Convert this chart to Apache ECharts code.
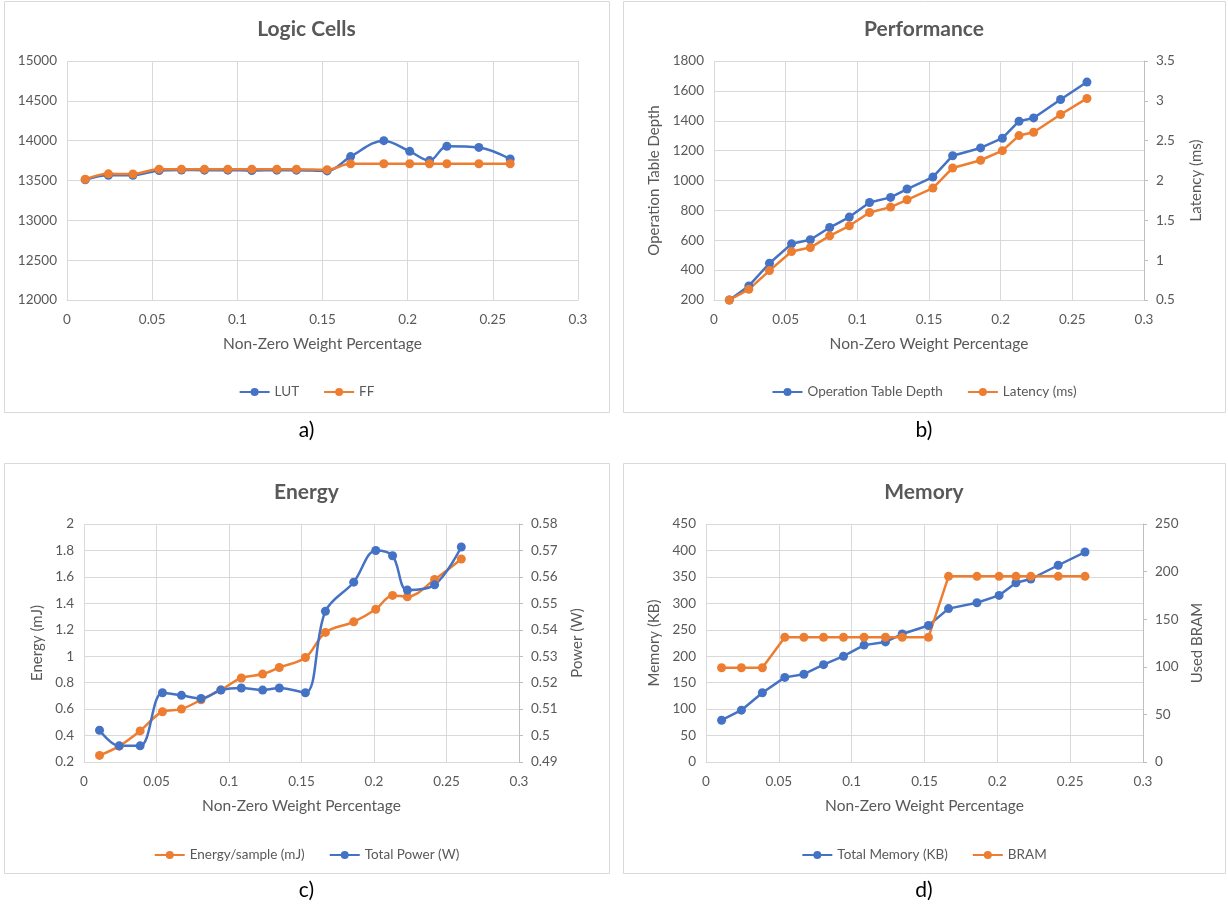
<!DOCTYPE html>
<html>
<head>
<meta charset="utf-8">
<script src="https://cdn.jsdelivr.net/npm/echarts@6/dist/echarts.min.js"></script>
<style>
html,body{margin:0;padding:0;background:#fff;}
#wrap{position:relative;width:1228px;height:907px;overflow:hidden;}
.p{position:absolute;}
</style>
</head>
<body>
<div id="wrap">
  <div class="p" id="pa" style="left:0;top:0;width:613px;height:455px"></div>
  <div class="p" id="pb" style="left:617px;top:0;width:614px;height:455px"></div>
  <div class="p" id="pc" style="left:0;top:455px;width:613px;height:452px"></div>
  <div class="p" id="pd" style="left:617px;top:455px;width:614px;height:452px"></div>
</div>
<script>
// ---- data ----
const nzw = [0.0107, 0.0243, 0.0387, 0.0541, 0.0672, 0.0807, 0.0944, 0.1085, 0.1232, 0.1347, 0.1527, 0.1665, 0.1860, 0.2012, 0.2128, 0.2230, 0.2418, 0.2602];
const lut = [13510, 13565, 13565, 13625, 13632, 13630, 13630, 13625, 13630, 13630, 13620, 13800, 14000, 13866, 13750, 13930, 13915, 13770];
const ff = [13515, 13584, 13582, 13642, 13642, 13642, 13642, 13642, 13642, 13642, 13636, 13710, 13710, 13710, 13710, 13710, 13710, 13710];
const depth = [200, 294, 446, 576, 603, 685, 755, 853, 887, 943, 1023, 1166, 1218, 1283, 1397, 1419, 1542, 1659];
const latency = [0.50, 0.634, 0.869, 1.108, 1.158, 1.305, 1.431, 1.599, 1.666, 1.758, 1.905, 2.157, 2.254, 2.375, 2.564, 2.606, 2.829, 3.03];
const energy = [0.25, 0.32, 0.435, 0.58, 0.60, 0.67, 0.745, 0.835, 0.865, 0.915, 0.99, 1.18, 1.26, 1.355, 1.46, 1.45, 1.58, 1.735];
const power = [0.502, 0.4961, 0.4961, 0.5162, 0.5152, 0.514, 0.5172, 0.518, 0.5172, 0.518, 0.5162, 0.547, 0.558, 0.570, 0.568, 0.555, 0.557, 0.5713];
const memory = [79, 98, 131, 160, 166, 184, 200, 221, 227, 242, 258, 290, 301, 315, 339, 346, 372, 397];
const bram = [99, 99, 99, 131, 131, 131, 131, 131, 131, 131, 131, 195, 195, 195, 195, 195, 195, 195];
const titles = ['Logic Cells', 'Performance', 'Energy', 'Memory'];
const panelLabels = ['a)', 'b)', 'c)', 'd)'];
const xName = 'Non-Zero Weight Percentage';

// ---- style ----
const FONT = 'Lato, "Open Sans", sans-serif';
const TXT = '#595959';
const GRID = '#d9d9d9';
const BLUE = '#4472C4';
const ORANGE = '#ED7D31';

const pair = (xs, ys) => xs.map((x, i) => [x, ys[i]]);

function xAx() {
  return {
    type: 'value', min: 0, max: 0.3, interval: 0.05,
    name: xName, nameLocation: 'middle', nameGap: 36,
    nameTextStyle: {color: TXT, fontFamily: FONT, fontSize: 15.5},
    axisLine: {show: true, lineStyle: {color: GRID}},
    axisTick: {show: false},
    axisLabel: {color: TXT, fontFamily: FONT, fontSize: 13.5, margin: 13,
      formatter: v => String(+v.toFixed(2))},
    splitLine: {show: true, lineStyle: {color: GRID, width: 1}}
  };
}

function yAx(min, max, interval, name, pos, gap, dec) {
  const o = {
    type: 'value', min, max, interval, position: pos,
    axisLine: {show: pos === 'right', lineStyle: {color: '#bfbfbf'}},
    axisTick: {show: pos === 'right', inside: false, length: 4, lineStyle: {color: '#bfbfbf'}},
    axisLabel: {color: TXT, fontFamily: FONT, fontSize: 13.5, margin: pos === 'right' ? 12 : 10,
      formatter: v => String(+v.toFixed(dec))},
    splitLine: {show: pos === 'left', lineStyle: {color: GRID, width: 1}}
  };
  if (name) {
    o.name = name; o.nameLocation = 'middle'; o.nameGap = gap;
    o.nameTextStyle = {color: TXT, fontFamily: FONT, fontSize: 15};
  }
  return o;
}

function line(name, yi, data, color, smooth) {
  return {
    type: 'line', name, yAxisIndex: yi, data,
    smooth: smooth ? 0.35 : false,
    symbol: 'circle', symbolSize: 9, showSymbol: true,
    lineStyle: {color, width: 2.5},
    itemStyle: {color},
    emphasis: {disabled: true},
    animation: false
  };
}

function panel(id, idx, grid, yAxes, series, boxH, legendTop, labelY) {
  const el = document.getElementById(id);
  const w = el.clientWidth;
  const chart = echarts.init(el, null, {renderer: 'canvas'});
  chart.setOption({
    animation: false,
    backgroundColor: 'transparent',
    title: {text: titles[idx], left: 'center', top: idx < 2 ? 14 : 22,
      textStyle: {color: TXT, fontFamily: FONT, fontSize: 21, fontWeight: 'bold'}},
    legend: {left: 'center', top: legendTop, itemWidth: 30, itemHeight: 10, itemGap: 24,
      textStyle: {color: TXT, fontFamily: FONT, fontSize: 13.5}, selectedMode: false},
    grid,
    xAxis: xAx(),
    yAxis: yAxes,
    series,
    graphic: [
      {type: 'rect', shape: {x: idx % 2 === 0 ? 4.5 : 6.5, y: idx < 2 ? 1.5 : 8.5,
        width: idx % 2 === 0 ? 605 : 602, height: boxH},
        style: {fill: 'none', stroke: GRID, lineWidth: 1}, silent: true},
      {type: 'text', x: w / 2, y: labelY,
        style: {text: panelLabels[idx], fill: '#000', font: '21px ' + FONT,
          textAlign: 'center', textVerticalAlign: 'middle'}, silent: true}
    ]
  });
}

panel('pa', 0, {left: 67, top: 61, width: 511, height: 239},
  [yAx(12000, 15000, 500, null, 'left', 0, 0)],
  [line('LUT', 0, pair(nzw, lut), BLUE, true), line('FF', 0, pair(nzw, ff), ORANGE, true)],
  411, 380, 430);

panel('pb', 1, {left: 97, top: 61, width: 430, height: 239},
  [yAx(200, 1800, 200, 'Operation Table Depth', 'left', 48, 0),
   yAx(0.5, 3.5, 0.5, 'Latency (ms)', 'right', 45, 1)],
  [line('Operation Table Depth', 0, pair(nzw, depth), BLUE, false),
   line('Latency (ms)', 1, pair(nzw, latency), ORANGE, false)],
  411, 380, 430);

panel('pc', 2, {left: 84, top: 69, width: 435, height: 238},
  [yAx(0.2, 2.0, 0.2, 'Energy (mJ)', 'left', 38, 1),
   yAx(0.49, 0.58, 0.01, 'Power (W)', 'right', 51, 2)],
  [line('Energy/sample (mJ)', 0, pair(nzw, energy), ORANGE, true),
   line('Total Power (W)', 1, pair(nzw, power), BLUE, true)],
  410, 388, 435);

panel('pd', 3, {left: 89, top: 69, width: 437, height: 238},
  [yAx(0, 450, 50, 'Memory (KB)', 'left', 40, 0),
   yAx(0, 250, 50, 'Used BRAM', 'right', 47, 0)],
  [line('Total Memory (KB)', 0, pair(nzw, memory), BLUE, false),
   line('BRAM', 1, pair(nzw, bram), ORANGE, false)],
  410, 388, 435);
</script>
</body>
</html>
